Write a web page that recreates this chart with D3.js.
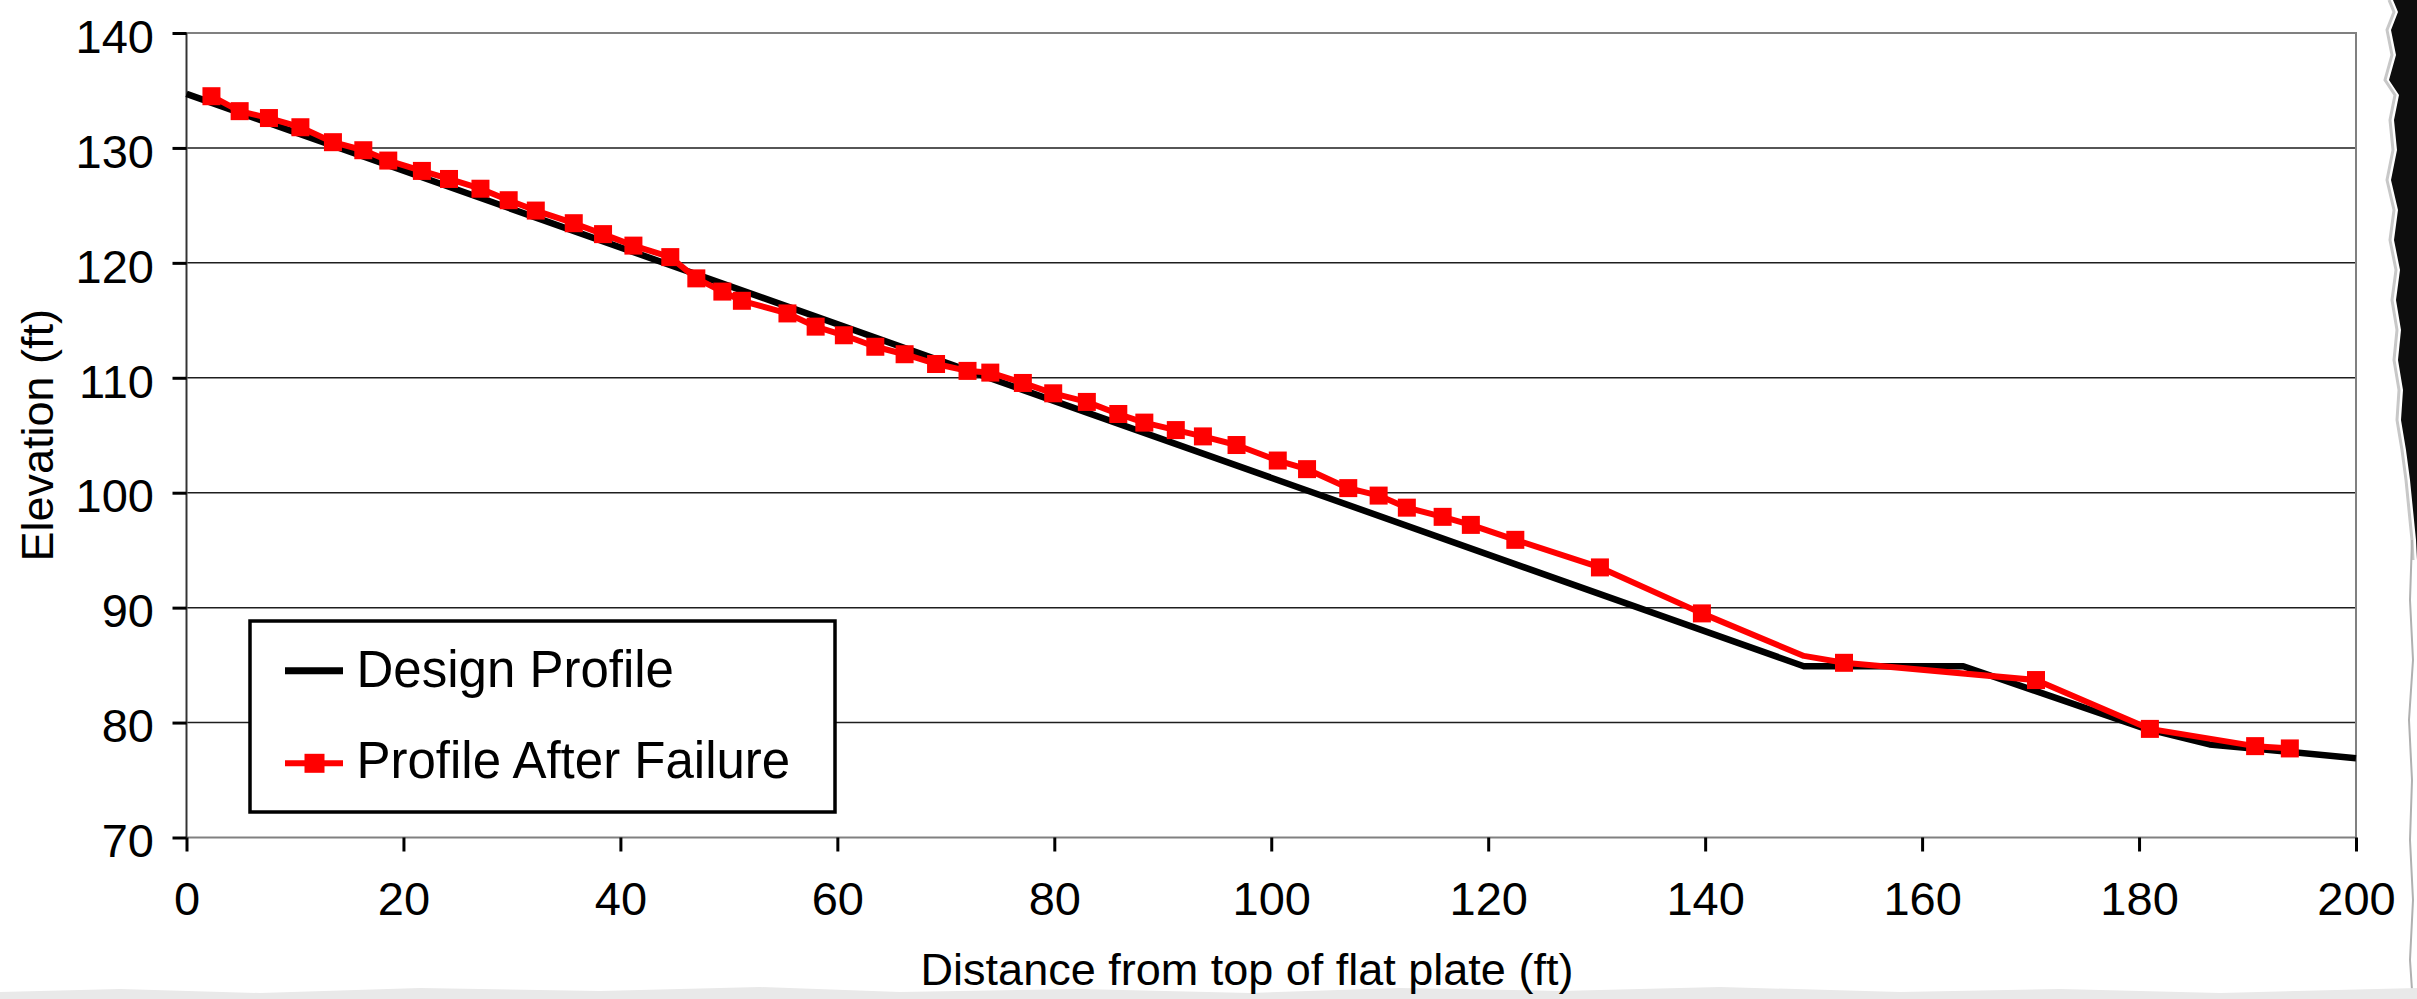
<!DOCTYPE html>
<html>
<head>
<meta charset="utf-8">
<script src="https://cdn.jsdelivr.net/npm/d3@7"></script>
<style>
  html, body { margin: 0; padding: 0; background: #fff; }
  svg { display: block; }
  text { font-family: "Liberation Sans", Arial, sans-serif; fill: #000; }
</style>
</head>
<body>
<svg id="chart" width="2417" height="999"></svg>
<script>
// Design profile vertices: distance (ft) and elevation (ft)
const designX = [0, 149.1, 163.8, 180.5, 186.5, 200];
const designY = [134.7, 84.9, 84.9, 79.5, 78.1, 76.9];

// Surveyed profile after failure
const failureX = [2.3, 4.9, 7.6, 10.5, 13.5, 16.3, 18.6, 21.7, 24.2, 27.1,
                  29.7, 32.2, 35.7, 38.4, 41.2, 44.6, 47.0, 49.4, 51.2, 55.4,
                  58.0, 60.6, 63.5, 66.2, 69.1, 72.0, 74.1, 77.1, 79.9, 83.0,
                  85.9, 88.3, 91.2, 93.7, 96.8, 100.6, 103.3, 107.1, 109.9, 112.5,
                  115.8, 118.4, 122.5, 130.3, 139.7, 149.1, 152.8, 170.5, 181.0, 190.7,
                  193.9];
const failureY = [134.5, 133.2, 132.6, 131.8, 130.5, 129.8, 128.9, 128.0, 127.3, 126.45,
                  125.45, 124.55, 123.45, 122.5, 121.5, 120.5, 118.65, 117.5, 116.7, 115.6,
                  114.45, 113.7, 112.7, 112.05, 111.2, 110.6, 110.45, 109.55, 108.65, 107.9,
                  106.85, 106.1, 105.45, 104.9, 104.15, 102.8, 102.05, 100.4, 99.75, 98.7,
                  97.9, 97.2, 95.9, 93.5, 89.5, 85.8, 85.2, 83.7, 79.45, 77.95,
                  77.75];
// Whether each survey point gets a marker (the toe break at 149.1 ft is a plain vertex)
const failureMarked = failureX.map(v => v !== 149.1);

const xTicks = [0, 20, 40, 60, 80, 100, 120, 140, 160, 180, 200];
const yTicks = [70, 80, 90, 100, 110, 120, 130, 140];
const seriesNames = ["Design Profile", "Profile After Failure"];
const xTitle = "Distance from top of flat plate (ft)";
const yTitle = "Elevation (ft)";

const svg = d3.select("#chart");
const plot = { left: 186.5, right: 2356, top: 33, bottom: 837.5 };

const x = d3.scaleLinear().domain([0, 200]).range([plot.left, plot.right]);
const y = d3.scaleLinear().domain([70, 140]).range([plot.bottom, plot.top]);

// Torn paper edges around the sheet
const tornRight = [[2393,0],[2398,12],[2391,30],[2396,55],[2389,80],[2399,95],[2394,120],
  [2397,150],[2391,180],[2398,210],[2394,240],[2400,270],[2396,300],[2401,330],[2398,360],
  [2403,390],[2401,420],[2406,450],[2410,480],[2413,510],[2416,540],[2417,560]];
svg.append("path")
  .attr("d", "M2417,0 L" + tornRight.map(p => p.join(",")).join(" L") + " Z")
  .attr("fill", "#0d0d0d");
svg.append("path")
  .attr("d", d3.line()(tornRight.map(p => [p[0] - 4, p[1]])))
  .attr("fill", "none").attr("stroke", "#c8c8c8").attr("stroke-width", 3);
const tornSide = [[2412,540],[2410,600],[2413,660],[2409,720],[2412,780],[2410,840],[2413,900],[2410,960],[2412,990]];
svg.append("path")
  .attr("d", d3.line()(tornSide))
  .attr("fill", "none").attr("stroke", "#b0b0b0").attr("stroke-width", 2);
const tornBottom = [[0,992],[120,989],[260,993],[420,988],[600,991],[760,987],[900,992],[1080,989],
  [1250,993],[1400,988],[1560,991],[1720,987],[1900,992],[2060,989],[2220,993],[2417,988]];
svg.append("path")
  .attr("d", "M0,999 L" + tornBottom.map(p => p.join(",")).join(" L") + " L2417,999 Z")
  .attr("fill", "#e9e9e9");

// Horizontal gridlines
svg.append("g")
  .selectAll("line")
  .data(yTicks.filter(v => v > 70 && v < 140))
  .join("line")
  .attr("x1", plot.left).attr("x2", plot.right)
  .attr("y1", d => y(d)).attr("y2", d => y(d))
  .attr("stroke", "#1e1e1e").attr("stroke-width", 1.5);

// Plot area frame
svg.append("rect")
  .attr("x", plot.left).attr("y", plot.top)
  .attr("width", plot.right - plot.left).attr("height", plot.bottom - plot.top)
  .attr("fill", "none").attr("stroke", "#808080").attr("stroke-width", 2);
svg.append("line")
  .attr("x1", plot.left).attr("x2", plot.left)
  .attr("y1", plot.top).attr("y2", plot.bottom)
  .attr("stroke", "#333").attr("stroke-width", 1.5);

// Axes
const yAxis = svg.append("g")
  .attr("transform", `translate(${plot.left},0)`)
  .call(d3.axisLeft(y).tickValues(yTicks).tickSizeInner(14).tickSizeOuter(0).tickPadding(18.5));
yAxis.select(".domain").remove();
yAxis.selectAll(".tick line").attr("stroke", "#000").attr("stroke-width", 3);
yAxis.selectAll(".tick text")
  .attr("font-size", 47).attr("font-family", "Liberation Sans, Arial, sans-serif")
  .attr("dy", "0.41em");

const xAxis = svg.append("g")
  .attr("transform", `translate(0,${plot.bottom})`)
  .call(d3.axisBottom(x).tickValues(xTicks).tickSizeInner(14).tickSizeOuter(0).tickPadding(30));
xAxis.select(".domain").remove();
xAxis.selectAll(".tick line").attr("stroke", "#000").attr("stroke-width", 3);
xAxis.selectAll(".tick text")
  .attr("font-size", 47).attr("font-family", "Liberation Sans, Arial, sans-serif");

// Axis titles
svg.append("text")
  .attr("x", 1247).attr("y", 985)
  .attr("text-anchor", "middle").attr("font-size", 45)
  .text(xTitle);
svg.append("text")
  .attr("transform", `translate(53,${(plot.top + plot.bottom) / 2}) rotate(-90)`)
  .attr("text-anchor", "middle").attr("font-size", 45)
  .text(yTitle);

// Series
const line = d3.line().x(d => x(d[0])).y(d => y(d[1]));
const designPts = designX.map((v, i) => [v, designY[i]]);
const failurePts = failureX.map((v, i) => [v, failureY[i]]);

svg.append("path")
  .datum(designPts)
  .attr("d", line)
  .attr("fill", "none").attr("stroke", "#000").attr("stroke-width", 6.5)
  .attr("stroke-linejoin", "round");

svg.append("path")
  .datum(failurePts)
  .attr("d", line)
  .attr("fill", "none").attr("stroke", "#ff0000").attr("stroke-width", 6)
  .attr("stroke-linejoin", "round");

const mk = 18;
svg.append("g")
  .selectAll("rect")
  .data(failurePts.filter((d, i) => failureMarked[i]))
  .join("rect")
  .attr("x", d => x(d[0]) - mk / 2).attr("y", d => y(d[1]) - mk / 2)
  .attr("width", mk).attr("height", mk)
  .attr("fill", "#ff0000");

// Legend
const lg = svg.append("g");
lg.append("rect")
  .attr("x", 250).attr("y", 621).attr("width", 585).attr("height", 191)
  .attr("fill", "#fff").attr("stroke", "#000").attr("stroke-width", 3.5);
const rows = [
  { name: seriesNames[0], color: "#000", width: 7, ly: 670.7, ty: 686.7, marker: false },
  { name: seriesNames[1], color: "#ff0000", width: 6, ly: 763.3, ty: 778.3, marker: true }
];
rows.forEach(r => {
  lg.append("line")
    .attr("x1", 285).attr("x2", 343).attr("y1", r.ly).attr("y2", r.ly)
    .attr("stroke", r.color).attr("stroke-width", r.width);
  if (r.marker) {
    lg.append("rect")
      .attr("x", 304.5).attr("y", r.ly - 9.5).attr("width", 20).attr("height", 19)
      .attr("fill", r.color);
  }
  lg.append("text")
    .attr("x", 356.5).attr("y", r.ty).attr("font-size", 51)
    .text(r.name);
});
</script>
</body>
</html>
